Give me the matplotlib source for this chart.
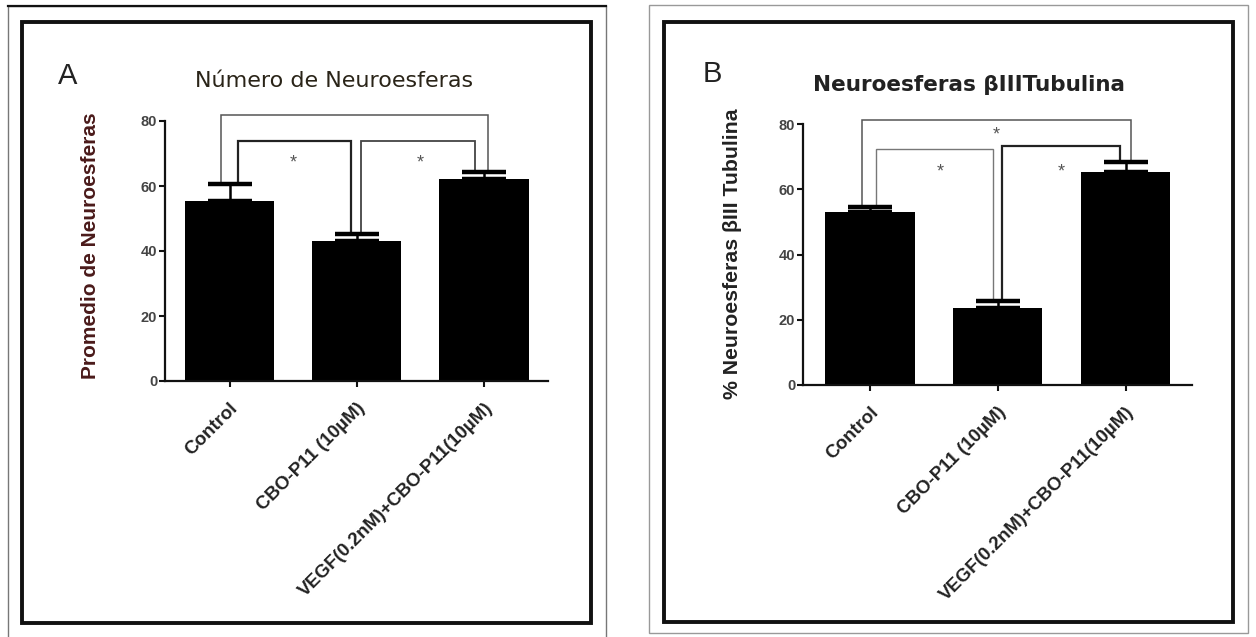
import matplotlib
matplotlib.use("Agg")
import matplotlib.pyplot as plt
from matplotlib.patches import Rectangle
from matplotlib.lines import Line2D

W, H = 1256, 637

categories = ["Control", "CBO-P11 (10\u00b5M)", "VEGF(0.2nM)+CBO-P11(10\u00b5M)"]

a_means = [55.5, 43.2, 62.1]
a_err = [5.1, 2.1, 2.1]
a_title = "N\u00famero de Neuroesferas"
a_ylabel = "Promedio de Neuroesferas"
a_brackets = [(0, 2, 81.8), (0, 1, 73.9), (1, 2, 73.9)]
a_stars = [(0.5, 67.0), (1.5, 67.0)]

b_means = [52.9, 23.5, 65.4]
b_err = [1.8, 2.2, 2.9]
b_title = "Neuroesferas \u03b2IIITubulina"
b_ylabel = "% Neuroesferas \u03b2III Tubulina"
b_brackets = [(0, 2, 81.2), (0, 1, 72.2), (1, 2, 73.3)]
b_stars = [(0.99, 76.6), (0.55, 65.4), (1.5, 65.4)]

yticks = [0, 20, 40, 60, 80]

fig = plt.figure(figsize=(W / 100, H / 100), dpi=100)


def frac_rect(x0, y0, x1, y1):
    return [x0 / W, 1 - y1 / H, (x1 - x0) / W, (y1 - y0) / H]


def fx(x):
    return x / W


def fy(y):
    return 1 - y / H


def frame(x0, y0, x1, y1, lw, color, z=0):
    fig.patches.append(Rectangle((fx(x0), fy(y1)), fx(x1) - fx(x0), fy(y0) - fy(y1),
                                 transform=fig.transFigure, fill=False, lw=lw,
                                 edgecolor=color, zorder=z))

frame(8, 6, 606, 660, 1.0, "#777777")
frame(649, 5, 1248, 633, 1.0, "#999999")
fig.lines.append(Line2D([fx(8), fx(606)], [fy(6), fy(6)], transform=fig.transFigure,
                        color="#111111", lw=1.6))
frame(22, 22, 591, 623, 2.8, "#111111")
frame(664, 22, 1233, 622, 2.8, "#111111")

offsets_a = {(0, 2): (-0.067, 0.03), (0, 1): (0.065, -0.043), (1, 2): (0.035, -0.07)}
offsets_b = {(0, 2): (-0.065, 0.04), (0, 1): (0.05, -0.04), (1, 2): (0.03, -0.04)}
bracket_style_a = {(0, 2): ("#555555", 1.1), (0, 1): ("#222222", 1.6), (1, 2): ("#444444", 1.3)}
bracket_style_b = {(0, 2): ("#555555", 1.1), (0, 1): ("#777777", 1.0), (1, 2): ("#222222", 1.6)}


def panel(rect, xlim, means, err, brackets, offsets, bstyle, stars):
    ax = fig.add_axes(rect)
    x = list(range(len(means)))
    ax.bar(x, means, width=0.70, color="black", zorder=2)
    ax.errorbar(x, means, yerr=[[0] * len(err), err], fmt="none", ecolor="black",
                elinewidth=1.8, capsize=16, capthick=3.2, zorder=3)
    tops = [m + e for m, e in zip(means, err)]
    for i, j, yl in brackets:
        oi, oj = offsets[(i, j)]
        c, lw = bstyle[(i, j)]
        ax.plot([i + oi, i + oi, j + oj, j + oj], [tops[i], yl, yl, tops[j]],
                color=c, lw=lw, clip_on=False, zorder=1, solid_joinstyle="miter")
    for sx, sy in stars:
        ax.text(sx, sy, "*", ha="center", va="center", fontsize=13, color="#555555",
                family="Liberation Sans")
    ax.set_xlim(*xlim)
    ax.set_ylim(0, 80)
    ax.set_yticks(yticks)
    ax.set_yticklabels([str(t) for t in yticks], family="Liberation Sans",
                       fontsize=10.5, fontweight="bold", color="#444444")
    ax.set_xticks(x)
    ax.set_xticklabels(categories, rotation=45, ha="right", va="top",
                       rotation_mode="anchor", family="Liberation Sans",
                       fontsize=13.5, fontweight="bold", color="#222222")
    for s in ("top", "right"):
        ax.spines[s].set_visible(False)
    for s in ("left", "bottom"):
        ax.spines[s].set_linewidth(1.6)
        ax.spines[s].set_color("#111111")
    ax.tick_params(axis="both", direction="out", length=4.5, width=1.5, color="#111111")
    ax.tick_params(axis="y", pad=1)
    ax.tick_params(axis="x", pad=9)
    ax.patch.set_alpha(0)
    return ax


axA = panel(frac_rect(165, 121, 548, 381), (-0.507, 2.503), a_means, a_err,
            a_brackets, offsets_a, bracket_style_a, a_stars)
axB = panel(frac_rect(803, 124, 1192, 385), (-0.524, 2.52), b_means, b_err,
            b_brackets, offsets_b, bracket_style_b, b_stars)

fig.text(fx(68), fy(76), "A", ha="center", va="center", fontsize=21,
         family="Liberation Sans", color="#222222")
fig.text(fx(712), fy(74), "B", ha="center", va="center", fontsize=21,
         family="Liberation Sans", color="#222222")
fig.text(fx(334), fy(81), a_title, ha="center", va="center", fontsize=16,
         family="DejaVu Sans", color="#2a2418")
fig.text(fx(969), fy(85), b_title, ha="center", va="center", fontsize=15.5,
         fontweight="bold", family="DejaVu Sans", color="#222222")
fig.text(fx(91), fy(246), a_ylabel, ha="center", va="center", rotation=90,
         fontsize=15, fontweight="bold", family="Liberation Sans", color="#4a1a1a")
fig.text(fx(732), fy(254), b_ylabel, ha="center", va="center", rotation=90,
         fontsize=15.3, fontweight="bold", family="Liberation Sans", color="#222222")

fig.savefig("out.png", dpi=100, facecolor="white")
